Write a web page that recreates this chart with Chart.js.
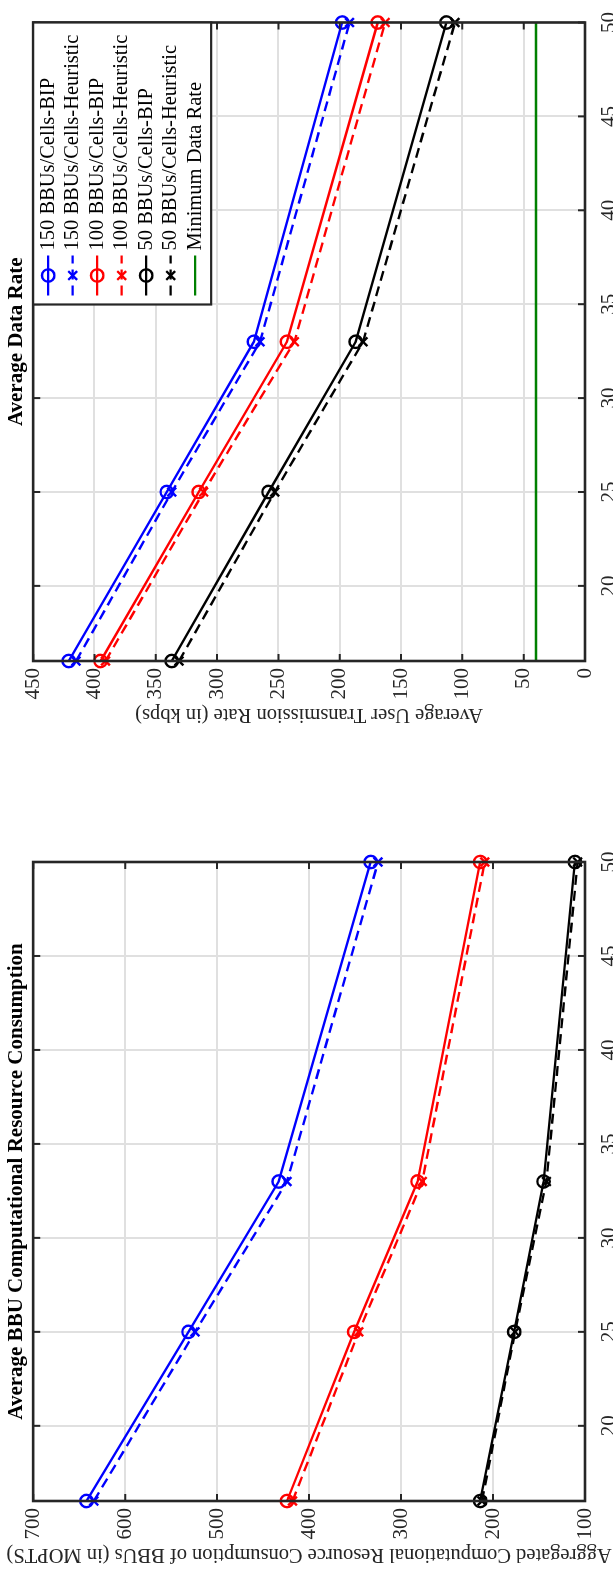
<!DOCTYPE html>
<html>
<head>
<meta charset="utf-8">
<script src="https://cdn.jsdelivr.net/npm/chart.js@4.4.0/dist/chart.umd.min.js"></script>
<style>
  html, body { margin: 0; padding: 0; overflow: hidden; background: #fff; }
  /* the figure is drawn landscape and turned a quarter turn to the left */
  #figure {
    position: absolute; left: 0; top: 1570px;
    width: 1570px; height: 613px;
    transform-origin: 0 0; transform: rotate(-90deg);
    overflow: hidden; background: #fff;
  }
  #figure canvas { position: absolute; top: 0; }
</style>
</head>
<body>
<div id="figure">
  <canvas id="bbuChart" width="785" height="660" style="left:0"></canvas>
  <canvas id="rateChart" width="785" height="660" style="left:785px"></canvas>
</div>
<script>
// number of users on the x axis
const xValues = [16, 25, 33, 50];
const xTicks = [20, 25, 30, 35, 40, 45, 50];

// Average BBU computational resource consumption (MOPTS)
const bbuTicks = [100, 200, 300, 400, 500, 600, 700];
const bbu150Bip = [642, 531, 433, 333];
const bbu150Heur = [634, 524, 424, 325];
const bbu100Bip = [424, 351, 282, 214];
const bbu100Heur = [418, 346, 277, 209];
const bbu50Bip = [214, 177, 145, 111];
const bbu50Heur = [212, 176, 142, 108];

// Average user transmission rate (kbps)
const rateTicks = [0, 50, 100, 150, 200, 250, 300, 350, 400, 450];
const rate150Bip = [421, 341, 270, 198];
const rate150Heur = [415, 337, 265, 192];
const rate100Bip = [395, 315, 243, 169];
const rate100Heur = [391, 311, 237, 163];
const rate50Bip = [337, 258, 187, 113];
const rate50Heur = [331, 253, 181, 106];
const minRate = [40, 40, 40, 40];

const BLUE = '#0000ff', RED = '#ff0000', BLACK = '#000000', GREEN = '#008000';
const AXIS = '#262626', GRID = '#e0e0e0';

Chart.defaults.font.family = '"Liberation Serif", "Times New Roman", serif';
Chart.defaults.font.size = 21;
Chart.defaults.color = AXIS;

function series(label, values, color, kind) {
  return {
    label: label,
    data: xValues.map((x, i) => ({ x: x, y: values[i] })),
    borderColor: color,
    backgroundColor: color,
    borderWidth: 2.4,
    borderDash: kind === 'heur' ? [10, 6] : [],
    pointStyle: kind === 'heur' ? 'crossRot' : 'circle',
    pointRadius: kind === 'min' ? 0 : 6.2,
    pointHoverRadius: 6.2,
    pointBorderWidth: 2.4,
    pointBorderColor: color,
    pointBackgroundColor: 'rgba(0,0,0,0)',
    tension: 0,
    fill: false,
    clip: false,
    kind: kind
  };
}

// box round the plot with inward ticks on all four sides (matlab look)
const axesBox = {
  id: 'axesBox',
  afterDatasetsDraw(chart) {
    const { ctx, chartArea: ca, scales } = chart;
    ctx.save();
    ctx.strokeStyle = AXIS;
    ctx.lineWidth = 2;
    ctx.beginPath();
    scales.x.ticks.forEach(t => {
      const px = scales.x.getPixelForValue(t.value);
      ctx.moveTo(px, ca.bottom); ctx.lineTo(px, ca.bottom - 7);
      ctx.moveTo(px, ca.top); ctx.lineTo(px, ca.top + 7);
    });
    scales.y.ticks.forEach(t => {
      const py = scales.y.getPixelForValue(t.value);
      ctx.moveTo(ca.left, py); ctx.lineTo(ca.left + 7, py);
      ctx.moveTo(ca.right, py); ctx.lineTo(ca.right - 7, py);
    });
    ctx.stroke();
    ctx.lineWidth = 2.6;
    ctx.strokeRect(ca.left, ca.top, ca.right - ca.left, ca.bottom - ca.top);
    ctx.restore();
  }
};

// legend box in the upper right corner of the plot
const boxLegend = {
  id: 'boxLegend',
  afterDraw(chart) {
    const { ctx, chartArea: ca } = chart;
    const w = 282, h = 178;
    const left = ca.right - w, top = ca.top;
    ctx.save();
    ctx.fillStyle = '#fff';
    ctx.fillRect(left, top, w, h);
    ctx.strokeStyle = AXIS;
    ctx.lineWidth = 2.2;
    ctx.strokeRect(left, top, w, h);
    ctx.font = '20.5px "Liberation Serif", serif';
    ctx.textBaseline = 'middle';
    chart.data.datasets.forEach((ds, i) => {
      const y = top + 15 + i * 24.5;
      const mx = left + 29;
      ctx.strokeStyle = ds.borderColor;
      ctx.lineWidth = 2.4;
      ctx.setLineDash(ds.borderDash);
      ctx.beginPath();
      ctx.moveTo(left + 9, y);
      ctx.lineTo(left + 49, y);
      ctx.stroke();
      ctx.setLineDash([]);
      ctx.beginPath();
      if (ds.kind === 'bip') {
        ctx.arc(mx, y, 6.2, 0, Math.PI * 2);
      } else if (ds.kind === 'heur') {
        const r = 6.2 * Math.SQRT1_2;
        ctx.moveTo(mx - r, y - r); ctx.lineTo(mx + r, y + r);
        ctx.moveTo(mx + r, y - r); ctx.lineTo(mx - r, y + r);
      }
      ctx.stroke();
      ctx.fillStyle = '#000';
      ctx.fillText(ds.label, left + 54, y);
    });
    ctx.restore();
  }
};

function makeOptions(cfg) {
  return {
    responsive: false,
    animation: false,
    events: [],
    layout: { padding: { left: cfg.padLeft, right: cfg.padRight, top: 0, bottom: 0 } },
    plugins: {
      legend: { display: false },
      tooltip: { enabled: false },
      title: {
        display: true,
        text: cfg.title,
        fullSize: false,
        color: '#000',
        font: { size: 21, weight: 'bold', lineHeight: 1.15 },
        padding: { top: 5, bottom: 4 }
      }
    },
    scales: {
      x: {
        type: 'linear',
        min: 16,
        max: 50,
        afterBuildTicks: s => { s.ticks = xTicks.map(v => ({ value: v })); },
        afterFit: s => { s.height = 75; },
        grid: { color: GRID, lineWidth: 2, drawTicks: false },
        border: { display: false },
        ticks: { padding: 12, maxRotation: 0 }
      },
      y: {
        type: 'linear',
        min: cfg.yMin,
        max: cfg.yMax,
        afterBuildTicks: s => { s.ticks = cfg.yTicks.map(v => ({ value: v })); },
        afterFit: s => { s.width = 69; },
        grid: { color: GRID, lineWidth: 2, drawTicks: false },
        border: { display: false },
        ticks: { padding: 7 },
        title: {
          display: true,
          text: cfg.yTitle,
          font: { size: 20.5 },
          padding: { top: 3, bottom: 0 }
        }
      }
    }
  };
}

new Chart(document.getElementById('bbuChart'), {
  type: 'line',
  data: {
    datasets: [
      series('150 BBUs/Cells-BIP', bbu150Bip, BLUE, 'bip'),
      series('150 BBUs/Cells-Heuristic', bbu150Heur, BLUE, 'heur'),
      series('100 BBUs/Cells-BIP', bbu100Bip, RED, 'bip'),
      series('100 BBUs/Cells-Heuristic', bbu100Heur, RED, 'heur'),
      series('50 BBUs/Cells-BIP', bbu50Bip, BLACK, 'bip'),
      series('50 BBUs/Cells-Heuristic', bbu50Heur, BLACK, 'heur')
    ]
  },
  options: makeOptions({
    title: 'Average BBU Computational Resource Consumption',
    yTitle: 'Aggregated Computational Resource Consumption of BBUs (in MOPTS)',
    yMin: 100, yMax: 700, yTicks: bbuTicks,
    padLeft: 0, padRight: 77
  }),
  plugins: [axesBox]
});

new Chart(document.getElementById('rateChart'), {
  type: 'line',
  data: {
    datasets: [
      series('150 BBUs/Cells-BIP', rate150Bip, BLUE, 'bip'),
      series('150 BBUs/Cells-Heuristic', rate150Heur, BLUE, 'heur'),
      series('100 BBUs/Cells-BIP', rate100Bip, RED, 'bip'),
      series('100 BBUs/Cells-Heuristic', rate100Heur, RED, 'heur'),
      series('50 BBUs/Cells-BIP', rate50Bip, BLACK, 'bip'),
      series('50 BBUs/Cells-Heuristic', rate50Heur, BLACK, 'heur'),
      series('Minimum Data Rate', minRate, GREEN, 'min')
    ]
  },
  options: makeOptions({
    title: 'Average Data Rate',
    yTitle: 'Average User Transmission Rate (in kbps)',
    yMin: 0, yMax: 450, yTicks: rateTicks,
    padLeft: 55, padRight: 20
  }),
  plugins: [axesBox, boxLegend]
});
</script>
</body>
</html>
